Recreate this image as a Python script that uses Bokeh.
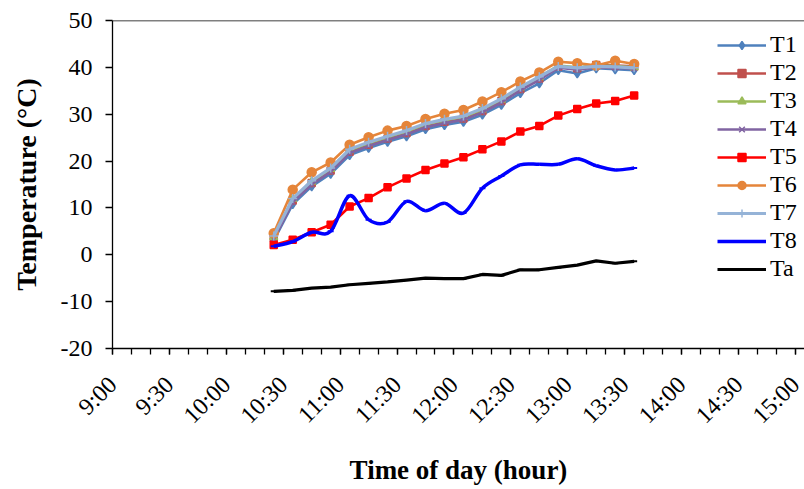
import numpy as np
from math import pi
from bokeh.plotting import figure
from bokeh.models import FixedTicker, Span, Legend, LegendItem, Range1d
from bokeh.embed import file_html
from bokeh.resources import INLINE

# ---------------- data ----------------
times = ["10:25", "10:35", "10:45", "10:55", "11:05", "11:15", "11:25", "11:35", "11:45", "11:55",
         "12:05", "12:15", "12:25", "12:35", "12:45", "12:55", "13:05", "13:15", "13:25", "13:35"]
T1 = [3.0, 10.8, 14.6, 17.3, 21.3, 22.8, 24.1, 25.3, 26.8, 27.7, 28.4, 29.9, 32.0, 34.5, 36.6, 39.4, 38.7, 39.8, 39.6, 39.4]
T2 = [3.6, 11.6, 15.3, 18.0, 22.0, 23.5, 24.8, 26.0, 27.5, 28.4, 29.1, 30.7, 32.8, 35.4, 37.6, 40.2, 39.8, 40.5, 40.4, 40.2]
T3 = [3.8, 11.9, 15.6, 18.3, 22.3, 23.8, 25.1, 26.3, 27.8, 28.7, 29.4, 31.0, 33.1, 35.7, 37.9, 40.4, 40.0, 40.4, 40.3, 40.0]
T4 = [3.3, 11.2, 15.0, 17.7, 21.7, 23.2, 24.5, 25.7, 27.2, 28.1, 28.8, 30.4, 32.5, 35.1, 37.3, 39.9, 39.5, 40.0, 39.9, 39.7]
T5 = [2.1, 3.2, 4.8, 6.4, 10.3, 12.1, 14.4, 16.3, 18.1, 19.5, 20.8, 22.5, 24.2, 26.3, 27.5, 29.7, 31.1, 32.3, 32.8, 34.0]
T6 = [4.6, 13.9, 17.6, 19.7, 23.5, 25.1, 26.5, 27.5, 29.0, 30.1, 30.9, 32.7, 34.7, 37.0, 38.9, 41.2, 40.9, 40.4, 41.4, 40.7]
T7 = [4.0, 12.0, 15.8, 18.5, 22.5, 24.0, 25.3, 26.5, 28.0, 28.9, 29.6, 31.2, 33.3, 35.8, 38.0, 40.2, 39.9, 40.2, 40.1, 39.9]
T8 = [1.8, 2.8, 4.8, 5.0, 12.6, 7.5, 7.0, 11.4, 9.4, 11.0, 8.9, 14.2, 16.8, 19.2, 19.3, 19.3, 20.5, 19.0, 18.1, 18.5]
Ta = [-7.8, -7.6, -7.1, -6.9, -6.4, -6.1, -5.8, -5.4, -5.0, -5.1, -5.1, -4.2, -4.4, -3.2, -3.2, -2.7, -2.2, -1.3, -1.8, -1.4]
x_tick_labels = ["9:00", "9:30", "10:00", "10:30", "11:00", "11:30", "12:00",
                 "12:30", "13:00", "13:30", "14:00", "14:30", "15:00"]
y_ticks = [-20, -10, 0, 10, 20, 30, 40, 50]


def to_min(s):
    h, m = s.split(":")
    return (int(h) - 9) * 60 + int(m)


x = [to_min(t) for t in times]
major = [to_min(t) for t in x_tick_labels]
minor = list(range(major[0], major[-1] + 1, 10))

FONT = "Liberation Serif"

p = figure(width=804, height=489, output_backend="svg", toolbar_location=None,
           x_range=Range1d(0, 364.8), y_range=Range1d(-20, 50),
           min_border_left=112, min_border_right=0, min_border_top=20, min_border_bottom=141,
           background_fill_color="white", border_fill_color="white")
p.outline_line_color = None
p.grid.visible = False

# axes
p.xaxis.ticker = FixedTicker(ticks=major, minor_ticks=minor)
p.xaxis.major_label_overrides = {m: l for m, l in zip(major, x_tick_labels)}
p.xaxis.major_label_orientation = pi / 4
p.yaxis.ticker = FixedTicker(ticks=y_ticks)
p.yaxis.major_label_overrides = {v: str(v) for v in y_ticks}
for ax in (p.xaxis[0], p.yaxis[0]):
    ax.axis_line_color = "black"
    ax.axis_line_width = 1.3
    ax.major_tick_line_color = "black"
    ax.minor_tick_line_color = "black"
    ax.major_tick_line_width = 1.3
    ax.minor_tick_line_width = 1.3
    ax.major_tick_in = 0
    ax.minor_tick_in = 0
    ax.major_label_text_font = FONT
    ax.major_label_text_font_size = "24px"
    ax.major_label_text_color = "black"
    ax.axis_label_text_font = FONT
    ax.axis_label_text_font_style = "bold"
    ax.axis_label_text_color = "black"
p.xaxis.axis_label_text_font_size = "27px"
p.yaxis.axis_label_text_font_size = "28px"
p.xaxis.major_tick_out = 6
p.xaxis.minor_tick_out = 6
p.yaxis.major_tick_out = 7
p.yaxis.minor_tick_out = 0
p.xaxis.major_label_standoff = 26
p.yaxis.major_label_standoff = 13
p.xaxis.axis_label = "Time of day (hour)"
p.yaxis.axis_label = "Temperature (°C)"
p.xaxis.axis_label_standoff = 14
p.yaxis.axis_label_standoff = 16

p.add_layout(Span(location=50, dimension="width", line_color="black", line_width=1.3))

items = []

def series(label, ys, color, marker, msize, lw=2.6):
    r1 = p.line(x, ys, line_color=color, line_width=lw)
    r2 = p.scatter(x, ys, marker=marker, size=msize, fill_color=color, line_color=color, line_width=1.5)
    items.append(LegendItem(label=label, renderers=[r1, r2]))

series("T1", T1, "#4F81BD", "diamond", 9)
series("T2", T2, "#C0504D", "square", 7)
series("T3", T3, "#9BBB59", "triangle", 8)
series("T4", T4, "#8064A2", "x", 7)
series("T5", T5, "#FF0000", "square", 7)
series("T6", T6, "#E5853A", "circle", 9)
series("T7", T7, "#95B3D7", "cross", 9, lw=3.2)

# T8: smoothed line (Bezier segments through the read points)
xs = np.array(x, float)
ys = np.array(T8, float)
xp = np.concatenate([[xs[0]], xs, [xs[-1]]])
yp = np.concatenate([[ys[0]], ys, [ys[-1]]])
n = len(xs)
x0 = xp[1:n]; y0 = yp[1:n]
x1 = xp[2:n + 1]; y1 = yp[2:n + 1]
cx0 = x0 + (xp[2:n + 1] - xp[0:n - 1]) / 6.0
cy0 = y0 + (yp[2:n + 1] - yp[0:n - 1]) / 6.0
cx1 = x1 - (xp[3:n + 2] - xp[1:n]) / 6.0
cy1 = y1 - (yp[3:n + 2] - yp[1:n]) / 6.0
rb = p.bezier(x0=x0, y0=y0, x1=x1, y1=y1, cx0=cx0, cy0=cy0, cx1=cx1, cy1=cy1,
              line_color="#0000FF", line_width=3.5)
rbm = p.scatter(x, T8, marker="dash", size=6, line_color="#0000FF", line_width=2)
items.append(LegendItem(label="T8", renderers=[rb, rbm]))

ra = p.line(x, Ta, line_color="black", line_width=3.2)
ram = p.scatter(x, Ta, marker="dash", size=6, line_color="black", line_width=2)
items.append(LegendItem(label="Ta", renderers=[ra, ram]))

legend = Legend(items=items, location=(605, 66), padding=12, margin=0, spacing=1,
                glyph_width=49, glyph_height=20, label_height=20, label_standoff=4,
                label_text_font=FONT, label_text_font_size="24px", label_text_color="black",
                border_line_color=None, background_fill_alpha=0)
p.add_layout(legend)

open("out.html", "w").write(file_html(p, INLINE))
